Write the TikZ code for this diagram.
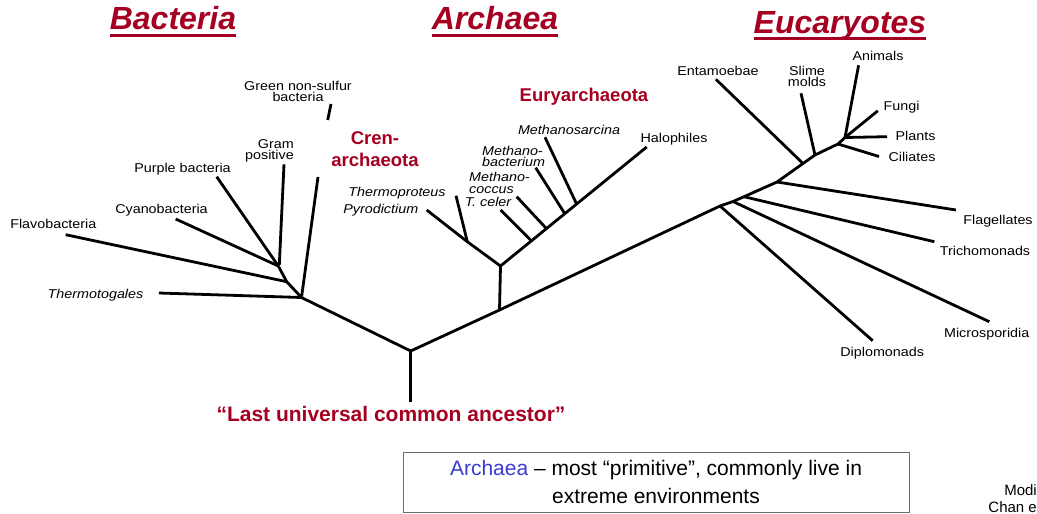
\documentclass[tikz,border=0pt]{standalone}
\usepackage{fontspec}
\setmainfont{Liberation Sans}
\newfontfamily\lblfont[FakeStretch=1.12]{Liberation Sans}
\definecolor{titlered}{RGB}{165,0,33}
\definecolor{archblue}{RGB}{60,60,210}
\definecolor{boxgray}{RGB}{110,110,110}
\begin{document}
\begin{tikzpicture}[x=1pt,y=-1pt,
  br/.style={line width=2.8pt, line join=round},
  lbl/.style={inner sep=0pt, font=\lblfont\fontsize{12.8}{11.5}\selectfont, text height=9.3pt, text depth=0pt},
  ital/.style={inner sep=0pt, font=\lblfont\itshape\fontsize{12.8}{11.5}\selectfont, text height=9.3pt, text depth=0pt},
  title/.style={inner sep=0pt, anchor=base, text=titlered, font=\bfseries\itshape\fontsize{32}{36}\selectfont},
  uline/.style={titlered, line width=3pt},
  clade/.style={inner sep=0pt, text=titlered, align=center, font=\bfseries\fontsize{18.5}{22}\selectfont},
  ]
\useasboundingbox (0,0) rectangle (1037,514);

% titles
\node[title] (tb) at (173,30) {Bacteria};
\node[title] (ta) at (495,30) {Archaea};
\node[title] (te) at (840,33) {Eucaryotes};
\draw[uline] ([yshift=-5pt]tb.base west) -- ([yshift=-5pt]tb.base east);
\draw[uline] ([yshift=-5pt]ta.base west) -- ([yshift=-5pt]ta.base east);
\draw[uline] ([yshift=-5pt]te.base west) -- ([yshift=-5pt]te.base east);

% tree coordinates
\coordinate (R) at (410.7,351);
\coordinate (T0) at (410.7,401.7);
% bacteria
\coordinate (B1) at (301.5,297.5);
\coordinate (B2) at (286.7,281.7);
\coordinate (B3) at (278.3,266);
\coordinate (thermotogaE) at (159,293);
\coordinate (greenE) at (318,177);
\coordinate (greenA) at (327.7,120);
\coordinate (greenB) at (331,104);
\coordinate (flavoE) at (65.7,234.7);
\coordinate (cyanoE) at (175.7,219);
\coordinate (purpleE) at (216.7,176.7);
\coordinate (gramS) at (279.3,265);
\coordinate (gramE) at (284,164.3);
% archaea
\coordinate (A0) at (499.5,310);
\coordinate (A1) at (500.5,266);
\coordinate (C1) at (467.3,241.7);
\coordinate (pyroE) at (426.7,210);
\coordinate (thermoproE) at (456,195.7);
\coordinate (haloE) at (646.7,147);
\coordinate (E1) at (531.7,241.2);
\coordinate (E2) at (546.7,228.9);
\coordinate (E3) at (565,214);
\coordinate (E4) at (576.7,204.2);
\coordinate (tcelerE) at (500.7,210);
\coordinate (mcoccusE) at (516.7,196.7);
\coordinate (mbactE) at (535.7,167.7);
\coordinate (msarcE) at (545,137.3);
% eukaryotes
\coordinate (K1) at (720,206);
\coordinate (K2) at (733,201.5);
\coordinate (K3) at (744,196.7);
\coordinate (K4) at (777,182);
\coordinate (K5) at (803,163.5);
\coordinate (K6) at (815,155);
\coordinate (K7) at (838,144);
\coordinate (K8) at (845,137.5);
\coordinate (diploE) at (872.7,340.7);
\coordinate (microE) at (989.3,321.7);
\coordinate (trichoE) at (934.3,241.7);
\coordinate (flagE) at (956,210);
\coordinate (entE) at (715.9,79.3);
\coordinate (slimeE) at (801,93.3);
\coordinate (cilE) at (879,156.5);
\coordinate (plantE) at (887,136.7);
\coordinate (fungiE) at (877.8,110.8);
\coordinate (animE) at (858.6,65.3);

% branches
\draw[br] (T0) -- (R);
\draw[br] (R) -- (B1) -- (B2) -- (B3) -- (purpleE);
\draw[br] (B1) -- (thermotogaE);
\draw[br] (B1) -- (greenE);
\draw[br] (greenA) -- (greenB);
\draw[br] (B2) -- (flavoE);
\draw[br] (B3) -- (cyanoE);
\draw[br] (gramS) -- (gramE);

\draw[br] (R) -- (A0) -- (K1) -- (K2) -- (K3) -- (K4) -- (K5) -- (K6) -- (K7) -- (K8);
\draw[br] (A0) -- (A1);
\draw[br] (A1) -- (C1) -- (pyroE);
\draw[br] (C1) -- (thermoproE);
\draw[br] (A1) -- (haloE);
\draw[br] (E1) -- (tcelerE);
\draw[br] (E2) -- (mcoccusE);
\draw[br] (E3) -- (mbactE);
\draw[br] (E4) -- (msarcE);

\draw[br] (K1) -- (diploE);
\draw[br] (K2) -- (microE);
\draw[br] (K3) -- (trichoE);
\draw[br] (K4) -- (flagE);
\draw[br] (K5) -- (entE);
\draw[br] (K6) -- (slimeE);
\draw[br] (K7) -- (cilE);
\draw[br] (K8) -- (plantE);
\draw[br] (K8) -- (fungiE);
\draw[br] (K8) -- (animE);

% bacteria labels
\node[lbl, align=center] (lgreen) at (298,97.3) {Green non-sulfur\\bacteria};
\node[lbl, align=right, anchor=east] (lgram) at (294,155) {Gram\\positive};
\node[lbl] (lpurple) at (182.5,168) {Purple bacteria};
\node[lbl] (lcyano) at (161.5,209) {Cyanobacteria};
\node[lbl] (lflavo) at (53.3,224) {Flavobacteria};
\node[ital] (lthermotoga) at (95.5,294) {Thermotogales};

% archaea labels
\node[clade] (lcren) at (375,149.5) {Cren-\\archaeota};
\node[clade] (leury) at (584,97) {Euryarchaeota};
\node[ital] (lthermopro) at (397,191.5) {Thermoproteus};
\node[ital] (lpyro) at (380.8,209.3) {Pyrodictium};
\node[ital] (ltceler) at (488,202.3) {T. celer};
\node[ital, align=left, anchor=west] (lmcoccus) at (469,188.7) {Methano-\\coccus};
\node[ital, align=left, anchor=west] (lmbact) at (482,162) {Methano-\\bacterium};
\node[ital] (lmsarc) at (569,130) {Methanosarcina};
\node[lbl] (lhalo) at (674,137.7) {Halophiles};

% eukaryote labels
\node[lbl] (lent) at (718,70.5) {Entamoebae};
\node[lbl, align=center] (lslime) at (807,82) {Slime\\molds};
\node[lbl] (lanim) at (878,56) {Animals};
\node[lbl] (lfungi) at (901.6,106) {Fungi};
\node[lbl] (lplant) at (915.5,136) {Plants};
\node[lbl] (lcil) at (912,156.7) {Ciliates};
\node[lbl] (lflag) at (998,219.5) {Flagellates};
\node[lbl] (ltricho) at (985,251) {Trichomonads};
\node[lbl] (lmicro) at (986.7,332.7) {Microsporidia};
\node[lbl] (ldiplo) at (882.2,351.7) {Diplomonads};

% LUCA
\node[inner sep=0pt, text=titlered, font=\bfseries\fontsize{21}{24}\selectfont] (luca) at (391,414) {“Last universal common ancestor”};

% box
\node[draw=boxgray, line width=1pt, minimum width=506pt, minimum height=60pt, inner sep=0pt, align=center, font=\fontsize{21}{28}\selectfont] (box) at (656,482) {\textcolor{archblue}{Archaea} – most “primitive”, commonly live in\\extreme environments};

% credits (cut off)
\node[inner sep=0pt, anchor=east, font=\fontsize{15}{17}\selectfont, text height=10.7pt, text depth=0pt] (cred1) at (1037,490) {Modi};
\node[inner sep=0pt, anchor=east, font=\fontsize{15}{17}\selectfont, text height=10.7pt, text depth=0pt] (cred2) at (1037,507) {Chan e};
\end{tikzpicture}
\end{document}
